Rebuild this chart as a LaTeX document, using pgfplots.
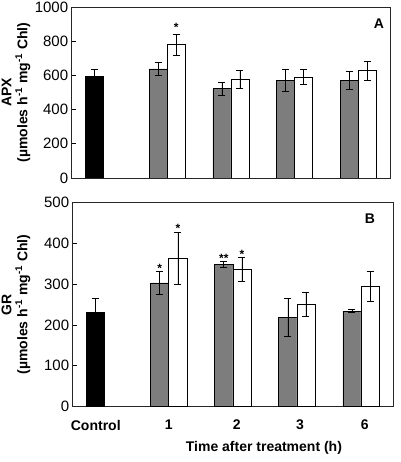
\documentclass[border=0pt]{standalone}
\usepackage{pgfplots}
\pgfplotsset{compat=1.18}
\usepackage{fontspec}
\setmainfont{Liberation Sans}
\definecolor{bargray}{HTML}{7D7D7D}
\begin{document}
\begin{tikzpicture}
\useasboundingbox (0,0) rectangle (400pt,462pt);
\pgfplotsset{
  panel/.style={
    scale only axis,
    xmin=-0.5, xmax=4.5, ymin=0,
    ytick pos=left, tick align=inside, major tick length=4pt,
    xtick style={draw=none},
    axis line style={black!85, line width=0.7pt},
    ytick style={black, line width=0.6pt},
    /pgf/number format/assume math mode=true,
    /pgf/number format/1000 sep={},
    yticklabel style={font=\fontsize{15}{17}\selectfont},
    ylabel style={font=\bfseries\fontsize{14}{16}\selectfont, align=center, anchor=center},
  },
  mybar/.style={ybar, bar shift=0pt, bar width=0.283, draw=black, line width=0.6pt,
    error bars/y dir=both, error bars/y explicit,
    error bars/error bar style={line width=0.6pt, black},
    error bars/error mark options={rotate=90, mark size=3.5pt, line width=0.6pt, black}},
  stars/.style={draw=none, nodes near coords, point meta=explicit symbolic,
    nodes near coords style={font=\bfseries\fontsize{12}{12}\selectfont, anchor=center, yshift=-2.6pt, black}},
}
% Panel A
\begin{axis}[panel,
  at={(71.7pt,284pt)}, anchor=south west,
  width=318.3pt, height=171pt,
  ymax=1000, ytick={0,200,...,1000}, xtick=\empty,
  ylabel={APX\\(µmoles h\textsuperscript{-1} mg\textsuperscript{-1} Chl)},
  ylabel style={at={(axis description cs:-0.175,0.5)}},
]
\addplot[mybar, fill=black] coordinates {(-0.1415,592) +- (0,44)};
\addplot[mybar, fill=bargray] coordinates {(0.8585,638) +- (0,40) (1.8585,522) +- (0,37) (2.8585,571) +- (0,62) (3.8585,569) +- (0,53)};
\addplot[mybar, fill=white] coordinates {(1.1415,780) +- (0,60) (2.1415,577) +- (0,53) (3.1415,589) +- (0,44) (4.1415,627) +- (0,54)};
\addplot[stars] coordinates {(1.1415,895)[*]};
\node[font=\bfseries\fontsize{14}{16}\selectfont] at (rel axis cs:0.965,0.90) {A};
\end{axis}
% Panel B
\begin{axis}[panel,
  at={(72.7pt,55.5pt)}, anchor=south west,
  width=320.3pt, height=204pt,
  ymax=500, ytick={0,100,...,500},
  xtick={-0.14,1,2.06,3.05,4.06}, xticklabels={Control,1,2,3,6},
  xticklabel style={font=\bfseries\fontsize{14}{16}\selectfont, anchor=center, yshift=-18.5pt},
  ylabel={GR\\(µmoles h\textsuperscript{-1} mg\textsuperscript{-1} Chl)},
  ylabel style={at={(axis description cs:-0.177,0.5)}},
  xlabel={Time after treatment (h)},
  xlabel style={font=\bfseries\fontsize{14}{16}\selectfont, at={(axis description cs:0.597,-0.203)}, anchor=center},
]
\addplot[mybar, fill=black] coordinates {(-0.1415,232) +- (0,33)};
\addplot[mybar, fill=bargray] coordinates {(0.8585,303) +- (0,29) (1.8585,349) +- (0,7) (2.8585,219) +- (0,47) (3.8585,234) +- (0,4)};
\addplot[mybar, fill=white] coordinates {(1.1415,364) +- (0,64) (2.1415,336) +- (0,30) (3.1415,250) +- (0,30) (4.1415,295) +- (0,36)};
\addplot[stars] coordinates {(0.8585,344)[*] (1.1415,444)[*] (1.8585,370)[**] (2.1415,379)[*]};
\node[font=\bfseries\fontsize{14}{16}\selectfont] at (rel axis cs:0.928,0.919) {B};
\end{axis}
\end{tikzpicture}
\end{document}
